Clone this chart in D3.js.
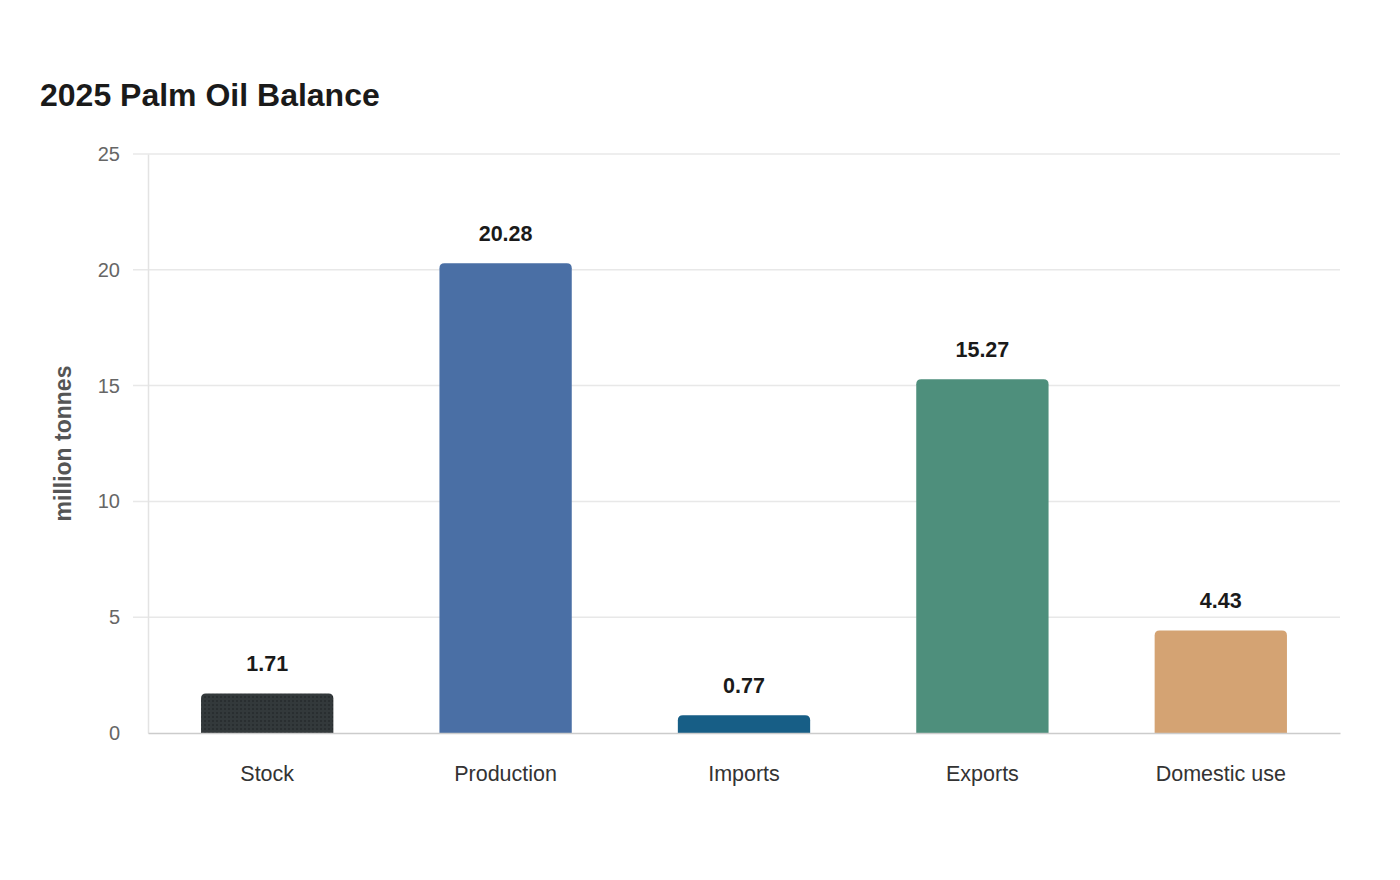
<!DOCTYPE html>
<html lang="en">
<head>
<meta charset="UTF-8">
<title>2025 Palm Oil Balance</title>
<script src="https://d3js.org/d3.v7.min.js"></script>
<style>
  body { margin: 0; background: #fff; font-family: "Liberation Sans", Arial, sans-serif; }
</style>
</head>
<body>
<script>
const categories = ['Stock', 'Production', 'Imports', 'Exports', 'Domestic use']
const values = [1.71, 20.28, 0.77, 15.27, 4.43]
const colors = ['url(#dots)', '#4a6fa5', '#175e86', '#4e8f7c', '#d4a373']
const yTicks = [0, 5, 10, 15, 20, 25]

const width = 1400, height = 880
const margin = { top: 154, right: 60, bottom: 147, left: 148 }

const svg = d3.select('body').append('svg')
  .attr('width', width)
  .attr('height', height)

// dotted fill for the stock bar
const pat = svg.append('defs').append('pattern')
  .attr('id', 'dots')
  .attr('width', 4).attr('height', 4)
  .attr('patternUnits', 'userSpaceOnUse')
pat.append('rect').attr('width', 4).attr('height', 4).attr('fill', '#33393b')
pat.append('circle').attr('cx', 1).attr('cy', 1).attr('r', 0.8).attr('fill', '#1c2022')

const x = d3.scaleBand()
  .domain(categories)
  .range([margin.left, width - margin.right])
  .paddingInner(0.445)
  .paddingOuter(0.2225)

const y = d3.scaleLinear()
  .domain([0, 25])
  .range([height - margin.bottom, margin.top])

svg.append('text')
  .attr('x', 40).attr('y', 106)
  .attr('font-size', 32).attr('font-weight', 'bold')
  .attr('fill', '#1a1a1a')
  .text('2025 Palm Oil Balance')

// grid
svg.append('g')
  .selectAll('line')
  .data(yTicks.slice(1))
  .join('line')
  .attr('x1', margin.left - 15).attr('x2', width - margin.right)
  .attr('y1', d => y(d)).attr('y2', d => y(d))
  .attr('stroke', '#e8e8e8').attr('stroke-width', 1.5)

// y axis
const yAxis = svg.append('g')
  .attr('transform', `translate(${margin.left},0)`)
  .call(d3.axisLeft(y).tickValues(yTicks).tickSize(0).tickPadding(28))
yAxis.select('.domain').attr('stroke', '#e3e3e3').attr('stroke-width', 1.5)
yAxis.selectAll('text')
  .attr('font-size', 20)
  .attr('font-family', '"Liberation Sans", Arial, sans-serif')
  .attr('fill', '#666')

svg.append('text')
  .attr('transform', `translate(71,${(y(0) + y(25)) / 2}) rotate(-90)`)
  .attr('text-anchor', 'middle')
  .attr('font-size', 23).attr('font-weight', 'bold')
  .attr('fill', '#555')
  .text('million tonnes')

// bars with rounded top corners
const r = 5
function barPath(d, i) {
  const x0 = x(categories[i]), w = x.bandwidth()
  const y0 = y(d), yb = y(0)
  const rr = Math.min(r, (yb - y0))
  return `M${x0},${yb}V${y0 + rr}Q${x0},${y0} ${x0 + rr},${y0}H${x0 + w - rr}Q${x0 + w},${y0} ${x0 + w},${y0 + rr}V${yb}Z`
}

svg.append('g')
  .selectAll('path')
  .data(values)
  .join('path')
  .attr('d', barPath)
  .attr('fill', (d, i) => colors[i])

svg.append('g')
  .selectAll('text')
  .data(values)
  .join('text')
  .attr('x', (d, i) => x(categories[i]) + x.bandwidth() / 2)
  .attr('y', d => y(d) - 22)
  .attr('text-anchor', 'middle')
  .attr('font-size', 21.5).attr('font-weight', 'bold')
  .attr('fill', '#1a1a1a')
  .text(d => d.toFixed(2))

// x axis
const xAxis = svg.append('g')
  .attr('transform', `translate(0,${y(0)})`)
  .call(d3.axisBottom(x).tickSize(0).tickPadding(33))
xAxis.select('.domain').attr('stroke', '#cccccc').attr('stroke-width', 1.5)
xAxis.selectAll('text')
  .attr('font-size', 21.5)
  .attr('font-family', '"Liberation Sans", Arial, sans-serif')
  .attr('fill', '#333')
</script>
</body>
</html>
